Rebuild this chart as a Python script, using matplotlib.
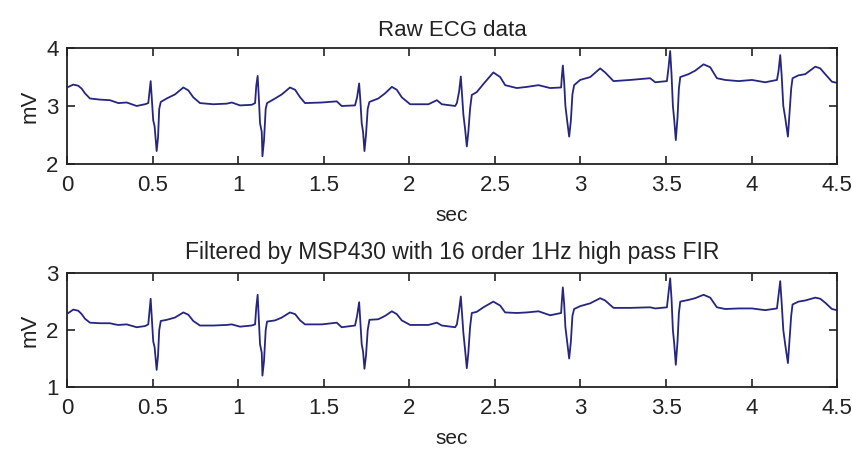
import numpy as np
import matplotlib
matplotlib.use("Agg")
from matplotlib import pyplot as plt

# time points (sec)
t = [0.008, 0.037, 0.066, 0.086, 0.105, 0.134, 0.193, 0.251, 0.280, 0.300,
     0.349, 0.407, 0.456, 0.475, 0.481, 0.489, 0.495, 0.504, 0.512, 0.524,
     0.532, 0.539, 0.548, 0.583, 0.631, 0.680, 0.709, 0.738, 0.777, 0.855,
     0.933, 0.963, 1.011, 1.079,
     1.099, 1.106, 1.114, 1.120, 1.128, 1.138, 1.142, 1.151, 1.161, 1.169,
     1.216, 1.255, 1.303, 1.333, 1.362, 1.391, 1.489, 1.576, 1.605, 1.683,
     1.695, 1.707, 1.714, 1.722, 1.730, 1.738, 1.747, 1.757, 1.767, 1.819,
     1.859, 1.898, 1.927, 1.956, 2.005, 2.112, 2.161, 2.190, 2.268,
     2.278, 2.291, 2.301, 2.309, 2.316, 2.326, 2.336, 2.345, 2.355, 2.365,
     2.394, 2.433, 2.491, 2.531, 2.560, 2.628, 2.687, 2.755, 2.823, 2.887,
     2.891, 2.897, 2.905, 2.912, 2.922, 2.934, 2.944, 2.953, 2.963, 2.998,
     3.057, 3.115, 3.144, 3.193, 3.290, 3.407,
     3.437, 3.505, 3.514, 3.524, 3.532, 3.540, 3.548, 3.557, 3.567, 3.575,
     3.583, 3.631, 3.670, 3.719, 3.758, 3.797, 3.846, 3.923, 4.002, 4.079,
     4.148, 4.157, 4.167, 4.175, 4.185, 4.196, 4.212, 4.222, 4.231, 4.239,
     4.274, 4.313, 4.372, 4.401, 4.430, 4.469, 4.498]

raw = [3.33, 3.37, 3.35, 3.30, 3.22, 3.13, 3.11, 3.10, 3.07, 3.05,
       3.06, 3.00, 3.03, 3.05, 3.22, 3.43, 3.15, 2.75, 2.65, 2.22,
       2.45, 2.95, 3.07, 3.13, 3.20, 3.32, 3.27, 3.15, 3.05, 3.03,
       3.04, 3.06, 3.01, 3.02,
       3.05, 3.35, 3.52, 3.20, 2.70, 2.55, 2.13, 2.40, 2.95, 3.05,
       3.13, 3.20, 3.32, 3.28, 3.15, 3.05, 3.06, 3.08, 3.00, 3.01,
       3.15, 3.39, 3.10, 2.70, 2.55, 2.22, 2.50, 2.95, 3.07, 3.13,
       3.22, 3.33, 3.28, 3.15, 3.03, 3.03, 3.10, 3.03, 3.00,
       3.05, 3.25, 3.51, 3.15, 2.85, 2.60, 2.30, 2.55, 2.95, 3.19,
       3.24, 3.38, 3.58, 3.50, 3.36, 3.31, 3.33, 3.36, 3.31, 3.32,
       3.50, 3.70, 3.40, 3.00, 2.75, 2.47, 2.75, 3.20, 3.36, 3.45,
       3.50, 3.65, 3.58, 3.43, 3.45, 3.48,
       3.41, 3.43, 3.65, 3.95, 3.55, 3.00, 2.75, 2.41, 2.80, 3.30,
       3.50, 3.55, 3.61, 3.72, 3.67, 3.48, 3.45, 3.43, 3.45, 3.41,
       3.45, 3.60, 3.88, 3.55, 3.00, 2.80, 2.47, 2.90, 3.30, 3.48,
       3.53, 3.55, 3.68, 3.65, 3.55, 3.42, 3.40]

filtered = [2.30, 2.36, 2.34, 2.28, 2.20, 2.13, 2.12, 2.12, 2.10, 2.09,
            2.10, 2.05, 2.07, 2.10, 2.30, 2.55, 2.25, 1.80, 1.70, 1.30,
            1.55, 2.00, 2.16, 2.18, 2.22, 2.31, 2.27, 2.16, 2.08, 2.08,
            2.09, 2.10, 2.06, 2.08,
            2.10, 2.40, 2.62, 2.25, 1.75, 1.60, 1.20, 1.45, 2.00, 2.15,
            2.17, 2.22, 2.31, 2.28, 2.17, 2.10, 2.10, 2.13, 2.05, 2.08,
            2.25, 2.49, 2.15, 1.75, 1.62, 1.32, 1.55, 2.00, 2.18, 2.19,
            2.25, 2.33, 2.28, 2.17, 2.09, 2.09, 2.13, 2.08, 2.05,
            2.10, 2.35, 2.59, 2.25, 1.95, 1.65, 1.33, 1.60, 2.05, 2.30,
            2.32, 2.40, 2.50, 2.43, 2.31, 2.30, 2.31, 2.33, 2.26, 2.30,
            2.50, 2.75, 2.45, 2.05, 1.80, 1.50, 1.80, 2.25, 2.37, 2.42,
            2.47, 2.56, 2.52, 2.39, 2.39, 2.40,
            2.38, 2.40, 2.65, 2.91, 2.55, 2.00, 1.75, 1.39, 1.80, 2.30,
            2.50, 2.53, 2.56, 2.62, 2.57, 2.40, 2.37, 2.38, 2.38, 2.35,
            2.38, 2.60, 2.86, 2.50, 2.00, 1.75, 1.42, 1.85, 2.25, 2.45,
            2.50, 2.52, 2.57, 2.55, 2.48, 2.37, 2.35]

xticks = [0, 0.5, 1, 1.5, 2, 2.5, 3, 3.5, 4, 4.5]
xticklabels = ['0', '0.5', '1', '1.5', '2', '2.5', '3', '3.5', '4', '4.5']

plt.rcParams['font.family'] = ['Liberation Sans', 'DejaVu Sans']

fig = plt.figure(figsize=(8.53, 4.5), dpi=100)
ax1 = fig.add_axes([0.0785, 0.636, 0.903, 0.257])
ax2 = fig.add_axes([0.0785, 0.140, 0.903, 0.253])

panels = [(ax1, raw, (2, 4), [2, 3, 4], 'Raw ECG data', 9, 16),
          (ax2, filtered, (1, 3), [1, 2, 3],
           'Filtered by MSP430 with 16 order 1Hz high pass FIR', 10, 16.5)]

ink = '#222222'
for ax, y, yl, yt, title, pad, tsize in panels:
    ax.plot(t, y, color='#262680', lw=1.3)
    ax.set_xlim(0, 4.5)
    ax.set_ylim(*yl)
    ax.set_xticks(xticks)
    ax.set_xticklabels(xticklabels)
    ax.set_yticks(yt)
    ax.tick_params(direction='in', top=True, right=True, length=6,
                   width=1.2, labelsize=16, colors=ink)
    ax.tick_params(axis='x', pad=8)
    ax.tick_params(axis='y', pad=6)
    for s in ax.spines.values():
        s.set_linewidth(1.3)
        s.set_color(ink)
    ax.set_title(title, fontsize=tsize, pad=pad, color=ink)
    ax.set_xlabel('sec', fontsize=15, labelpad=7, color=ink)
    ax.set_ylabel('mV', fontsize=16, labelpad=4, color=ink)

fig.savefig('out.png', dpi=100)
